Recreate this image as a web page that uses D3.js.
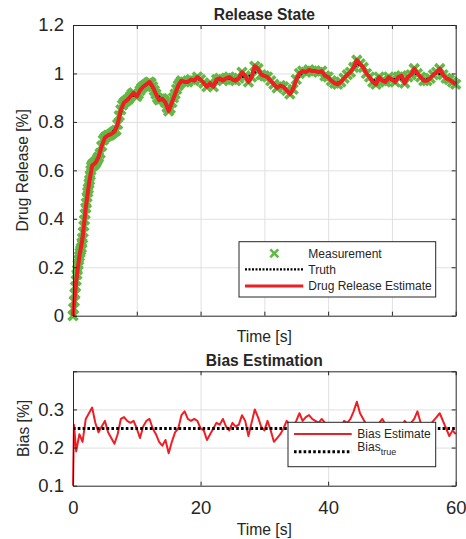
<!DOCTYPE html>
<html><head><meta charset="utf-8">
<script src="https://cdn.jsdelivr.net/npm/d3@7"></script>
<style>
body{margin:0;background:#fff}
text{font-family:"Liberation Sans",Arial,Helvetica,sans-serif;fill:#262626}
</style>
</head><body><svg id="c" width="466" height="539" style="background:#fff"></svg>
<script>
// ---------------- DATA ----------------
// Measurement times (s): dense during the fast rise
const measTime = [...d3.range(0, 4.001, 0.1), ...d3.range(4.25, 17.001, 0.25), ...d3.range(17.5, 60.001, 0.5)];
const measurement = [
 0.00,0.03,0.06,0.09,0.12,0.145,0.17,0.19,0.21,0.23,0.245,0.26,0.27,0.28,0.30,0.32,0.345,0.37,0.395,0.42,
 0.445,0.465,0.49,0.51,0.525,0.545,0.56,0.58,0.60,0.615,0.62,0.625,0.62,0.63,0.625,0.63,0.635,0.64,0.645,0.65,0.655,
 0.67,0.70,0.725,0.735,0.74,0.745,0.745,0.75,0.755,0.76,0.765,0.79,0.825,0.85,0.87,0.88,0.885,0.89,0.895,0.905,
 0.915,0.92,0.91,0.905,0.915,0.93,0.94,0.945,0.95,0.955,0.96,0.965,0.96,0.945,0.93,0.915,0.90,0.89,0.895,0.895,
 0.89,0.88,0.86,0.845,0.855,0.88,0.90,0.915,0.935,0.95,0.96,0.97,
 0.965,0.965,0.975,0.97,0.985,0.975,0.96,0.945,0.96,0.945,0.975,0.98,0.97,0.98,0.985,0.975,0.97,0.98,1.005,0.99,
 0.965,0.985,1.03,1.02,0.995,0.99,0.985,0.97,0.955,0.94,0.95,0.945,0.93,0.915,0.935,0.975,1.00,1.01,1.005,1.015,
 1.01,1.01,1.005,1.01,0.99,0.985,0.97,0.96,0.955,0.965,0.98,0.995,1.005,1.025,1.055,1.04,1.025,1.00,0.985,0.965,
 0.955,0.985,0.97,0.965,0.985,0.975,0.965,0.985,0.99,0.96,0.985,0.995,1.02,1.00,0.985,0.97,0.97,0.98,0.995,1.005,
 1.02,0.995,0.98,0.975,0.965,0.955
];
// Drug release estimate, every 0.5 s
const estTime = d3.range(0, 60.001, 0.5);
const estimate = [
 0.00,0.145,0.245,0.32,0.445,0.545,0.62,0.63,0.655,0.70,0.735,0.745,0.75,0.76,0.79,0.85,0.88,0.89,0.905,0.92,
 0.905,0.93,0.945,0.955,0.965,0.945,0.915,0.89,0.895,0.88,0.845,0.88,0.915,0.95,0.97,
 0.965,0.965,0.975,0.97,0.985,0.975,0.96,0.945,0.96,0.945,0.975,0.98,0.97,0.98,0.985,0.975,0.97,0.98,1.005,0.99,
 0.965,0.985,1.03,1.02,0.995,0.99,0.985,0.97,0.955,0.94,0.95,0.945,0.93,0.915,0.935,0.975,1.00,1.01,1.005,1.015,
 1.01,1.01,1.005,1.01,0.99,0.985,0.97,0.96,0.955,0.965,0.98,0.995,1.005,1.025,1.055,1.04,1.025,1.00,0.985,0.965,
 0.955,0.985,0.97,0.965,0.985,0.975,0.965,0.985,0.99,0.96,0.985,0.995,1.02,1.00,0.985,0.97,0.97,0.98,0.995,1.005,
 1.02,0.995,0.98,0.975,0.965,0.955
];
// Truth, every 1 s
const truthTime = d3.range(0, 60.001, 1);
const truth = [
 0.00,0.245,0.445,0.615,0.655,0.735,0.75,0.79,0.88,0.905,0.91,0.945,0.96,0.915,0.895,0.85,0.915,0.97,0.965,0.975,
 0.975,0.95,0.95,0.975,0.98,0.975,0.98,0.99,0.99,1.015,0.99,0.97,0.945,0.945,0.92,0.97,1.005,1.01,1.01,1.005,
 0.985,0.96,0.965,0.995,1.025,1.04,1.00,0.97,0.98,0.97,0.975,0.98,0.97,0.995,1.00,0.975,0.98,1.00,0.995,0.975,0.96
];
// Bias estimate
const biasTime = [0, 0.15, ...d3.range(0.5, 60.001, 0.5)];
const biasEstimate = [
 0.10,0.26,
 0.19,0.235,0.215,0.275,0.29,0.305,0.265,0.24,0.255,0.27,0.24,0.225,0.21,0.235,0.275,0.28,0.27,0.265,0.27,0.25,
 0.225,0.255,0.27,0.275,0.25,0.235,0.215,0.205,0.22,0.185,0.215,0.24,0.25,0.285,0.295,0.275,0.27,0.275,0.27,0.25,
 0.245,0.22,0.235,0.25,0.265,0.26,0.275,0.255,0.245,0.265,0.255,0.26,0.285,0.27,0.23,0.265,0.30,0.28,0.255,0.245,
 0.27,0.245,0.215,0.225,0.235,0.25,0.27,0.26,0.255,0.27,0.29,0.27,0.28,0.285,0.275,0.27,0.265,0.275,0.265,0.26,
 0.25,0.24,0.245,0.255,0.27,0.265,0.275,0.295,0.32,0.29,0.275,0.26,0.25,0.24,0.255,0.265,0.275,0.26,0.25,0.255,
 0.245,0.26,0.25,0.27,0.26,0.265,0.275,0.295,0.265,0.255,0.25,0.26,0.27,0.28,0.29,0.27,0.25,0.23,0.245,0.235
];
const biasTrue = 0.25;
// Ticks
const xTicksTop = [0,10,20,30,40,50,60];
const yTicksTop = [0,0.2,0.4,0.6,0.8,1,1.2];
const xTicksBot = [0,20,40,60];
const yTicksBot = [0.1,0.2,0.3,0.4];
const yLabelsBot = [0.1,0.2,0.3];

// ---------------- DRAW ----------------
const svg = d3.select("#c");
const AX = "#262626", GRID = "#e0e0e0", GREEN = "#63b946", RED = "#ee1f24";
const L = 73, R = 455.7;
const x = d3.scaleLinear().domain([0,60]).range([L,R]);
const y1 = d3.scaleLinear().domain([0,1.2]).range([315.7,25]);
const y2 = d3.scaleLinear().domain([0.1,0.4]).range([485.7,371.3]);
const fmt = d3.format("~g");

function grid(yS, xg, yg){
  const [b,t] = yS.range();
  const g = svg.append("g");
  g.append("g").attr("transform",`translate(0,${b})`)
   .call(d3.axisBottom(x).tickValues(xg).tickSize(-(b-t)).tickFormat(""))
   .call(s=>{s.select(".domain").remove(); s.selectAll("line").attr("stroke",GRID);});
  g.append("g").attr("transform",`translate(${L},0)`)
   .call(d3.axisLeft(yS).tickValues(yg).tickSize(-(R-L)).tickFormat(""))
   .call(s=>{s.select(".domain").remove(); s.selectAll("line").attr("stroke",GRID);});
}
function box(yS, xt, yt, xLab, yLab){
  const [b,t] = yS.range();
  const style = s=>{s.selectAll("path,line").attr("stroke",AX); s.selectAll("text").attr("fill",AX).style("font-size","18.5px");};
  svg.append("g").attr("transform",`translate(0,${b})`)
    .call(d3.axisBottom(x).tickValues(xt).tickSize(-4).tickSizeOuter(0).tickPadding(15.5)
      .tickFormat(d=> xLab && xLab.includes(d) ? fmt(d) : "")).call(style);
  svg.append("g").attr("transform",`translate(0,${t})`)
    .call(d3.axisTop(x).tickValues(xt).tickSize(-4).tickSizeOuter(0).tickFormat("")).call(style);
  svg.append("g").attr("transform",`translate(${L},0)`)
    .call(d3.axisLeft(yS).tickValues(yt).tickSize(-4).tickSizeOuter(0).tickPadding(9)
      .tickFormat(d=> yLab.includes(d) ? fmt(d) : "")).call(style);
  svg.append("g").attr("transform",`translate(${R},0)`)
    .call(d3.axisRight(yS).tickValues(yt).tickSize(-4).tickSizeOuter(0).tickFormat("")).call(style);
}

// ---- Top panel ----
grid(y1, [10,20,30,40,50], [0.2,0.4,0.6,0.8,1.0]);
const xMark = "M-4.5,-4.5L4.5,4.5M-4.5,4.5L4.5,-4.5";
const legMark = "M-4,-4L4,4M-4,4L4,-4";
svg.append("g").selectAll("path").data(measTime.map((t,i)=>[t,measurement[i]]).filter(d=>d[1]!==undefined))
  .join("path").attr("d",xMark)
  .attr("transform",d=>`translate(${x(d[0])},${y1(d[1])})`)
  .attr("stroke",GREEN).attr("stroke-width",3.6).attr("fill","none");
svg.append("path").datum(truthTime.map((t,i)=>[t,truth[i]]))
  .attr("d",d3.line().x(d=>x(d[0])).y(d=>y1(d[1])))
  .attr("fill","none").attr("stroke","#000").attr("stroke-width",2).attr("stroke-dasharray","2,1.5");
svg.append("path").datum(estTime.map((t,i)=>[t,estimate[i]]))
  .attr("d",d3.line().x(d=>x(d[0])).y(d=>y1(d[1])))
  .attr("fill","none").attr("stroke",RED).attr("stroke-width",4).attr("stroke-linejoin","round");
box(y1, xTicksTop, yTicksTop, null, yTicksTop);

svg.append("text").attr("x",(L+R)/2).attr("y",20).attr("text-anchor","middle")
  .style("font-weight","bold").style("font-size","15.6px").text("Release State");
svg.append("text").attr("x",(L+R)/2).attr("y",341.5).attr("text-anchor","middle")
  .style("font-size","15.7px").text("Time [s]");
svg.append("text").attr("transform",`translate(28,${(25+315.7)/2}) rotate(-90)`).attr("text-anchor","middle")
  .style("font-size","15.6px").text("Drug Release [%]");

// legend top
{
  const g = svg.append("g");
  g.append("rect").attr("x",239).attr("y",241.7).attr("width",196.7).attr("height",55.3)
    .attr("fill","#fff").attr("stroke",AX).attr("stroke-width",1);
  g.append("path").attr("d",legMark).attr("transform","translate(274.3,253.3)")
    .attr("stroke",GREEN).attr("stroke-width",2.6).attr("fill","none");
  g.append("line").attr("x1",245).attr("x2",303.3).attr("y1",269.3).attr("y2",269.3)
    .attr("stroke","#000").attr("stroke-width",2.2).attr("stroke-dasharray","2,1.5");
  g.append("line").attr("x1",245).attr("x2",303.3).attr("y1",286).attr("y2",286)
    .attr("stroke",RED).attr("stroke-width",3);
  const labs = [["Measurement",253.3],["Truth",269.3],["Drug Release Estimate",286]];
  labs.forEach(([s,yy])=>g.append("text").attr("x",308.3).attr("y",yy).attr("dy","0.35em")
    .style("font-size","12px").text(s));
}

// ---- Bottom panel ----
grid(y2, [20,40], [0.2,0.3]);
svg.append("path").datum(biasTime.map((t,i)=>[t,biasEstimate[i]]))
  .attr("d",d3.line().x(d=>x(d[0])).y(d=>y2(d[1])))
  .attr("fill","none").attr("stroke",RED).attr("stroke-width",2).attr("stroke-linejoin","round");
svg.append("line").attr("x1",x(0)).attr("x2",x(60)).attr("y1",y2(biasTrue)).attr("y2",y2(biasTrue))
  .attr("stroke","#000").attr("stroke-width",3).attr("stroke-dasharray","2.6,2.2");
box(y2, xTicksBot, yTicksBot, xTicksBot, yLabelsBot);

svg.append("text").attr("x",(L+R)/2).attr("y",366).attr("text-anchor","middle")
  .style("font-weight","bold").style("font-size","15.6px").text("Bias Estimation");
svg.append("text").attr("x",(L+R)/2).attr("y",535).attr("text-anchor","middle")
  .style("font-size","15.7px").text("Time [s]");
svg.append("text").attr("transform",`translate(28.5,${(371.3+485.7)/2}) rotate(-90)`).attr("text-anchor","middle")
  .style("font-size","15.6px").text("Bias [%]");

// legend bottom
{
  const g = svg.append("g");
  g.append("rect").attr("x",288).attr("y",422.3).attr("width",147.7).attr("height",44.4)
    .attr("fill","#fff").attr("stroke",AX).attr("stroke-width",1);
  g.append("line").attr("x1",294).attr("x2",351.7).attr("y1",434).attr("y2",434)
    .attr("stroke",RED).attr("stroke-width",1.8);
  g.append("line").attr("x1",294).attr("x2",351.7).attr("y1",451.7).attr("y2",451.7)
    .attr("stroke","#000").attr("stroke-width",3).attr("stroke-dasharray","2.6,2.2");
  g.append("text").attr("x",357.3).attr("y",434).attr("dy","0.35em").style("font-size","12px").text("Bias Estimate");
  const t = g.append("text").attr("x",357.3).attr("y",451).style("font-size","12px");
  t.append("tspan").text("Bias");
  t.append("tspan").attr("dy",4).style("font-size","9px").text("true");
}
</script>
</body></html>
